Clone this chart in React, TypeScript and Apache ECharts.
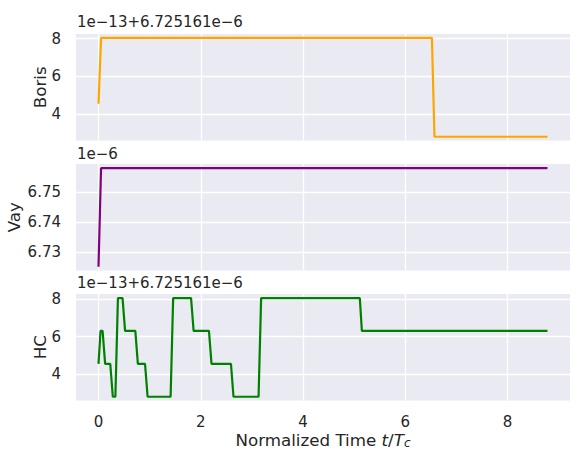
import React, { useEffect, useRef } from "react";
import * as echarts from "echarts";

// ---- data (y values of Boris / HC are offsets: value = 6.725161e-6 + v * 1e-13) ----
const xTicks = [0, 2, 4, 6, 8];
const levelTicks = [4, 6, 8];
const vayTicks = [6.73, 6.74, 6.75];

const borisT = [0, 0.05, 6.52, 6.57, 8.78];
const borisV = [4.55, 8.04, 8.04, 2.8, 2.8];

const vayT = [0, 0.05, 8.78];
const vayV = [6.725161, 6.758, 6.758];

const hcT = [
  0, 0.04, 0.08, 0.13, 0.23, 0.28, 0.33, 0.38, 0.47, 0.52, 0.72, 0.77, 0.91,
  0.96, 1.41, 1.46, 1.81, 1.86, 2.16, 2.21, 2.59, 2.64, 3.13, 3.18, 5.11, 5.15,
  8.78,
];
const hcV = [
  4.55, 6.3, 6.3, 4.55, 4.55, 2.8, 2.8, 8.04, 8.04, 6.3, 6.3, 4.55, 4.55, 2.8,
  2.8, 8.04, 8.04, 6.3, 6.3, 4.55, 4.55, 2.8, 2.8, 8.04, 8.04, 6.3, 6.3,
];

const yNames = ["Boris", "Vay", "HC"];
const offsetLabels = ["1e\u221213+6.725161e\u22126", "1e\u22126", "1e\u221213+6.725161e\u22126"];
const lineColors = ["#FFA500", "#800080", "#008000"];

// ---- layout ----
const FONT = "DejaVu Sans";
const TEXT = "#262626";
const gridTops = [34, 164, 294];
const gridH = 106.5;
const gridLeft = 76;
const gridW = 494;
const yRanges = [
  [2.6, 8.25],
  [6.7239, 6.7594],
  [2.6, 8.26],
];
const yTickSets = [levelTicks, vayTicks, levelTicks];
const nameGaps = [28, 54, 28];
const offsetY = [22, 153.8, 283];

const zip = (a: number[], b: number[]) => a.map((t, i) => [t, b[i]]);
const seriesData = [zip(borisT, borisV), zip(vayT, vayV), zip(hcT, hcV)];

export default function App() {
  const ref = useRef<HTMLDivElement>(null);
  useEffect(() => {
    document.body.style.margin = "0";
    if (!ref.current) return;
    const chart = echarts.init(ref.current, undefined, { renderer: "svg" });
    const grids = gridTops.map((top) => ({
      left: gridLeft,
      top,
      width: gridW,
      height: gridH,
      show: true,
      backgroundColor: "#EAEAF2",
      borderWidth: 0,
      containLabel: false,
      outerBoundsMode: "none",
    }));
    const xAxes = gridTops.map((_, i) => ({
      type: "value",
      gridIndex: i,
      min: -0.44,
      max: 9.22,
      axisLine: { show: false },
      axisTick: { show: false, customValues: xTicks },
      axisLabel: {
        show: i === 2,
        customValues: xTicks,
        margin: 14,
        fontFamily: FONT,
        fontSize: 15,
        color: TEXT,
      },
      splitLine: { show: true, lineStyle: { color: "#ffffff", width: 1.3 } },
      name: i === 2 ? "Normalized Time {i|t}/{i|T}{s|c}" : "",
      nameLocation: "middle",
      nameGap: 31,
      nameMoveOverlap: false,
      nameTextStyle: {
        fontFamily: FONT,
        fontSize: 16.7,
        color: TEXT,
        rich: {
          i: { fontFamily: FONT, fontSize: 16.7, fontStyle: "italic", color: TEXT },
          s: {
            fontFamily: FONT,
            fontSize: 12,
            fontStyle: "italic",
            color: TEXT,
            verticalAlign: "bottom",
            lineHeight: 12,
            padding: [9, 0, 0, 0],
          },
        },
      },
    }));
    const yAxes = gridTops.map((_, i) => ({
      type: "value",
      gridIndex: i,
      min: yRanges[i][0],
      max: yRanges[i][1],
      axisLine: { show: false },
      axisTick: { show: false, customValues: yTickSets[i] },
      axisLabel: {
        customValues: yTickSets[i],
        margin: 15,
        fontFamily: FONT,
        fontSize: 15,
        color: TEXT,
        formatter: (v: number) => (i === 1 ? v.toFixed(2) : String(Math.round(v))),
      },
      splitLine: { show: true, lineStyle: { color: "#ffffff", width: 1.3 } },
      name: yNames[i],
      nameLocation: "middle",
      nameGap: nameGaps[i],
      nameMoveOverlap: false,
      nameTextStyle: { fontFamily: FONT, fontSize: 16.7, color: TEXT },
    }));
    const series = seriesData.map((d, i) => ({
      type: "line",
      xAxisIndex: i,
      yAxisIndex: i,
      data: d,
      showSymbol: false,
      symbol: "none",
      color: lineColors[i],
      lineStyle: { color: lineColors[i], width: 2.2 },
      z: 3,
    }));
    chart.setOption({
      animation: false,
      backgroundColor: "#ffffff",
      grid: grids,
      xAxis: xAxes,
      yAxis: yAxes,
      series,
      graphic: offsetLabels.map((t, i) => ({
        type: "text",
        x: 77,
        y: offsetY[i],
        style: {
          text: t,
          fontFamily: FONT,
          fontSize: 15,
          fill: TEXT,
          verticalAlign: "middle",
          align: "left",
        },
      })),
    });
    return () => chart.dispose();
  }, []);
  return <div ref={ref} style={{ width: 577, height: 455 }} />;
}
